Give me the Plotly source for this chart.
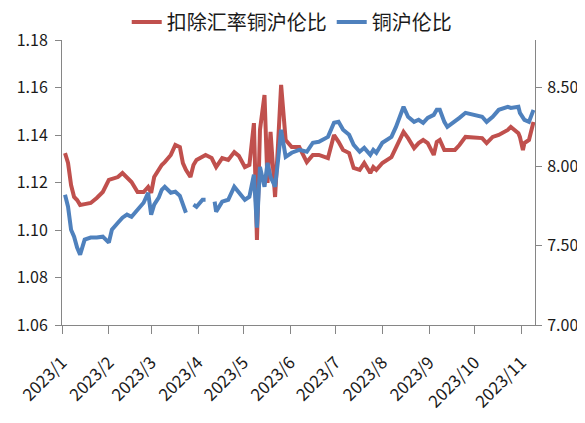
import plotly.graph_objects as go

dates = [
    "2023-01-03", "2023-01-05", "2023-01-07", "2023-01-09", "2023-01-11", "2023-01-13",
    "2023-01-16", "2023-01-20", "2023-01-24", "2023-01-28", "2023-02-01", "2023-02-03",
    "2023-02-07", "2023-02-10", "2023-02-13", "2023-02-16", "2023-02-20", "2023-02-24",
    "2023-02-27", "2023-03-01", "2023-03-03", "2023-03-06", "2023-03-08", "2023-03-10",
    "2023-03-14", "2023-03-17", "2023-03-20", "2023-03-22", "2023-03-24", "2023-03-27",
    "2023-03-29", "2023-03-31", "2023-04-04", "2023-04-06", "2023-04-10", "2023-04-12",
    "2023-04-13", "2023-04-17", "2023-04-21", "2023-04-25", "2023-04-28", "2023-05-02",
    "2023-05-05", "2023-05-08", "2023-05-10", "2023-05-11", "2023-05-12", "2023-05-15",
    "2023-05-17", "2023-05-19", "2023-05-22", "2023-05-24", "2023-05-26", "2023-05-29",
    "2023-06-02", "2023-06-07", "2023-06-12", "2023-06-16", "2023-06-20", "2023-06-26",
    "2023-06-30", "2023-07-03", "2023-07-06", "2023-07-10", "2023-07-13", "2023-07-17",
    "2023-07-20", "2023-07-24", "2023-07-26", "2023-07-28", "2023-08-01", "2023-08-07",
    "2023-08-10", "2023-08-15", "2023-08-18", "2023-08-22", "2023-08-25", "2023-08-28",
    "2023-08-31", "2023-09-04", "2023-09-06", "2023-09-08", "2023-09-11", "2023-09-13",
    "2023-09-18", "2023-09-21", "2023-09-25", "2023-10-06", "2023-10-09", "2023-10-13",
    "2023-10-17", "2023-10-23", "2023-10-25", "2023-10-30", "2023-10-31", "2023-11-02",
    "2023-11-03", "2023-11-06", "2023-11-08", "2023-11-09",
]

ratio_ex_fx = [
    1.1324, 1.1282, 1.1189, 1.1139, 1.1126, 1.1105,
    1.1109, 1.1114, 1.1135, 1.1160, 1.1211, 1.1215,
    1.1223, 1.1240, 1.1219, 1.1202, 1.1160, 1.1160,
    1.1181, 1.1156, 1.1223, 1.1253, 1.1274, 1.1286,
    1.1316, 1.1358, 1.1349, 1.1282, 1.1253, 1.1223,
    1.1274, 1.1295, 1.1307, 1.1316, 1.1303, 1.1274,
    1.1265, 1.1303, 1.1295, 1.1328, 1.1312, 1.1265,
    1.1274, 1.1450, 1.0958, 1.1181, 1.1421, 1.1568,
    1.1198, 1.1413, 1.1139, 1.1366, 1.1611, 1.1379,
    1.1349, 1.1349, 1.1286, 1.1316, 1.1316, 1.1303,
    1.1400, 1.1371, 1.1337, 1.1324, 1.1261, 1.1253,
    1.1282, 1.1240, 1.1265, 1.1253, 1.1282, 1.1307,
    1.1349, 1.1413, 1.1387, 1.1345, 1.1366, 1.1379,
    1.1366, 1.1316, 1.1371, 1.1379, 1.1337, 1.1337,
    1.1337, 1.1358, 1.1392, 1.1387, 1.1366, 1.1392,
    1.1400, 1.1421, 1.1434, 1.1408, 1.1392, 1.1337,
    1.1366, 1.1379, 1.1442, 1.1455,
]

ratio_sh_ldn = [
    7.823, 7.747, 7.602, 7.558, 7.489, 7.444,
    7.539, 7.552, 7.552, 7.558, 7.520, 7.602,
    7.646, 7.678, 7.697, 7.684, 7.728, 7.772,
    7.835, 7.697, 7.760, 7.804, 7.854, 7.873,
    7.835, 7.842, 7.816, 7.760, 7.709, None,
    7.760, 7.747, 7.791, 7.791, None, 7.779,
    7.716, 7.779, 7.791, 7.873, 7.835, 7.791,
    7.810, 7.949, 7.615, 7.791, 7.999, 7.873,
    8.024, 7.936, 7.873, 8.043, 8.233, 8.062,
    8.088, 8.106, 8.094, 8.151, 8.157, 8.188,
    8.277, 8.283, 8.233, 8.201, 8.138, 8.094,
    8.119, 8.075, 8.106, 8.088, 8.151, 8.188,
    8.251, 8.378, 8.315, 8.283, 8.296, 8.277,
    8.308, 8.327, 8.359, 8.359, 8.283, 8.251,
    8.283, 8.308, 8.340, 8.315, 8.283, 8.315,
    8.359, 8.378, 8.371, 8.378, 8.340, 8.308,
    8.296, 8.283, 8.346, 8.359,
]

tick_dates = ["2023-%02d-01" % m for m in range(1, 12)]
tick_labels = ["2023/%d" % m for m in range(1, 12)]

name_red = "扣除汇率铜沪伦比"
name_blue = "铜沪伦比"

FONT = "Noto Sans CJK SC"
AXIS_COLOR = "#868686"
TEXT_COLOR = "#1a1a1a"

fig = go.Figure()
fig.add_trace(go.Scatter(
    x=dates, y=ratio_ex_fx, name=name_red, mode="lines",
    line=dict(color="#C0504D", width=4), yaxis="y",
))
fig.add_trace(go.Scatter(
    x=dates, y=ratio_sh_ldn, name=name_blue, mode="lines",
    line=dict(color="#4F81BD", width=4), yaxis="y2", connectgaps=False,
))

fig.update_layout(
    template="none",
    width=585, height=423,
    margin=dict(l=54, r=58, t=32, b=106, autoexpand=False),
    paper_bgcolor="white", plot_bgcolor="white",
    font=dict(family=FONT, size=16, color=TEXT_COLOR),
    showlegend=True,
    legend=dict(
        orientation="h", xref="container", x=0.485, xanchor="center",
        yref="container", y=0.967, yanchor="middle",
        font=dict(family=FONT, size=20, color=TEXT_COLOR),
        bgcolor="rgba(0,0,0,0)", tracegroupgap=0,
    ),
    xaxis=dict(
        type="date", range=["2023-01-01", "2023-11-10"],
        tickmode="array", tickvals=tick_dates, ticktext=tick_labels,
        tickangle=-45, ticks="outside", ticklen=8, tickcolor=AXIS_COLOR,
        ticklabelstandoff=12,
        showline=True, linecolor=AXIS_COLOR, linewidth=1,
        showgrid=False, zeroline=False, automargin=False,
        tickfont=dict(family=FONT, size=17, color=TEXT_COLOR),
    ),
    yaxis=dict(
        range=[1.06, 1.18], dtick=0.02, tick0=1.06, tickformat=".2f",
        ticks="outside", ticklen=6, tickcolor=AXIS_COLOR,
        ticklabelstandoff=4,
        showline=True, linecolor=AXIS_COLOR, linewidth=1,
        showgrid=False, zeroline=False, automargin=False,
        tickfont=dict(family=FONT, size=16, color=TEXT_COLOR),
    ),
    yaxis2=dict(
        range=[7.0, 8.8], dtick=0.5, tick0=7.0, tickformat=".2f",
        overlaying="y", side="right",
        ticks="outside", ticklen=6, tickcolor=AXIS_COLOR,
        ticklabelstandoff=2,
        showline=True, linecolor=AXIS_COLOR, linewidth=1,
        showgrid=False, zeroline=False, automargin=False,
        tickfont=dict(family=FONT, size=16, color=TEXT_COLOR),
    ),
)

fig.write_html("out.html")
